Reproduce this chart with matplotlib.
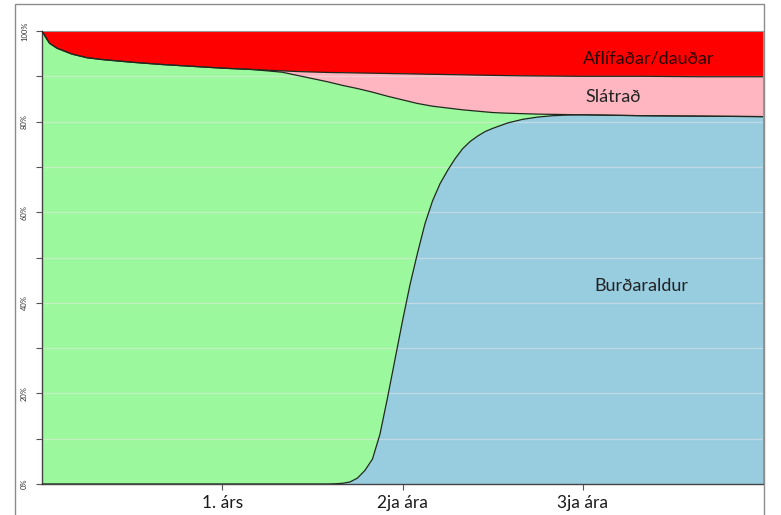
import matplotlib.pyplot as plt
import numpy as np
from matplotlib.patches import Rectangle

plt.rcParams['font.family'] = ['Lato', 'DejaVu Sans']

# months from birth
months = [0, 0.25, 0.5, 1, 2, 3, 4, 6, 8, 10, 12, 14,
          16, 17, 18, 19,
          19.5, 20, 20.5, 21, 21.5, 22, 22.5, 23, 23.5, 24, 24.5,
          25, 25.5, 26, 26.5, 27, 27.5, 28, 28.5, 29, 29.5, 30,
          31, 32, 33, 34, 35, 36,
          40, 44, 48]

# shares in % (bottom to top)
burdaraldur = [0, 0, 0, 0, 0, 0, 0, 0, 0, 0, 0, 0,
               0, 0, 0, 0,
               0.05, 0.15, 0.45, 1.3, 3, 5.5, 11, 19, 27.5, 36, 44,
               51, 57.5, 62.5, 66.3, 69.2, 71.8, 74, 75.6, 76.8, 77.8, 78.5,
               79.7, 80.5, 81.0, 81.3, 81.45, 81.5,
               81.3, 81.2, 81.1]
ungvidi = [100, 98.6, 97.3, 96.2, 94.9, 94.1, 93.7, 93.1, 92.6, 92.2, 91.8, 91.5,
           90.9, 90.2, 89.5, 88.8,
           88.35, 87.85, 87.2, 86.0, 83.9, 81.0, 75.05, 66.6, 57.7, 48.8, 40.4,
           33.0, 26.2, 20.9, 16.9, 13.8, 11.0, 8.6, 6.85, 5.5, 4.35, 3.5,
           2.15, 1.25, 0.65, 0.3, 0.1, 0,
           0, 0, 0]
slatrad = [0, 0, 0, 0, 0, 0, 0, 0, 0, 0, 0, 0,
           0.3, 0.85, 1.45, 2.05,
           2.42, 2.8, 3.12, 3.44, 3.81, 4.18, 4.6, 5.02, 5.39, 5.76, 6.13,
           6.5, 6.77, 7.04, 7.21, 7.38, 7.55, 7.72, 7.84, 7.96, 8.08, 8.2,
           8.3, 8.35, 8.42, 8.45, 8.47, 8.5,
           8.7, 8.7, 8.8]
daudar = [0, 1.4, 2.7, 3.8, 5.1, 5.9, 6.3, 6.9, 7.4, 7.8, 8.2, 8.5,
          8.8, 8.95, 9.05, 9.15,
          9.18, 9.2, 9.23, 9.26, 9.29, 9.32, 9.35, 9.38, 9.41, 9.44, 9.47,
          9.5, 9.53, 9.56, 9.59, 9.62, 9.65, 9.68, 9.71, 9.74, 9.77, 9.8,
          9.85, 9.9, 9.93, 9.95, 9.98, 10.0,
          10.0, 10.1, 10.1]

xtick_pos = [12, 24, 36]
xtick_lab = ['1. árs', '2ja ára', '3ja ára']

colors = ['#98cde0', '#9cf89c', '#ffb6c1', '#ff0000']

W, H = 781, 515
fig = plt.figure(figsize=(W/100, H/100), dpi=100)
ax = fig.add_axes([42/W, 1-484/H, (763-42)/W, (484-31)/H])

series = [burdaraldur, ungvidi, slatrad, daudar]
ax.stackplot(months, *series, colors=colors, linewidth=0, zorder=1)

# light gridlines on top of the fills
for g in range(10, 100, 10):
    ax.axhline(g, color='#e6e6e6', lw=0.9, alpha=0.55, zorder=2)

# boundary lines
tops = np.cumsum(np.array(series[:3]), axis=0)
for t in tops:
    ax.plot(months, t, color='#1f2a1f', lw=0.9, zorder=3,
            solid_joinstyle='round')

ax.set_xlim(0, 48)
ax.set_ylim(0, 100)

ax.set_yticks(range(0, 101, 10))
ax.set_yticklabels([f'{v}%' if v % 20 == 0 else '' for v in range(0, 101, 10)],
                   rotation=90, va='center', fontsize=5.5, color='#333333')
ax.tick_params(axis='y', length=4, width=0.8, color='#555555', pad=6)

ax.set_xticks(xtick_pos)
ax.set_xticklabels(xtick_lab, fontsize=12.5, color='#1a1a1a')
ax.tick_params(axis='x', length=4, width=0.8, color='#555555', pad=4)

for s in ['left', 'bottom']:
    ax.spines[s].set_color('#444444')
    ax.spines[s].set_linewidth(1.0)
for s in ['top', 'right']:
    ax.spines[s].set_color('#999999')
    ax.spines[s].set_linewidth(0.8)

# labels placed in pixel positions of the picture
ax.text(649, H-58, 'Aflífaðar/dauðar', transform=None, fontsize=13,
        ha='center', va='center', color='#2a0000')
ax.text(613, H-97, 'Slátrað', transform=None, fontsize=13,
        ha='center', va='center', color='#222222')
ax.text(641, H-286, 'Burðaraldur', transform=None, fontsize=13,
        ha='center', va='center', color='#222222')

# outer frame of the picture
frame = Rectangle((15/W, -0.05), (764-15)/W, 1.05 - 4/H,
                  transform=fig.transFigure, fill=False,
                  edgecolor='#8c8c8c', lw=1.0, clip_on=False)
fig.patches.append(frame)

plt.savefig('out.png', dpi=100)
